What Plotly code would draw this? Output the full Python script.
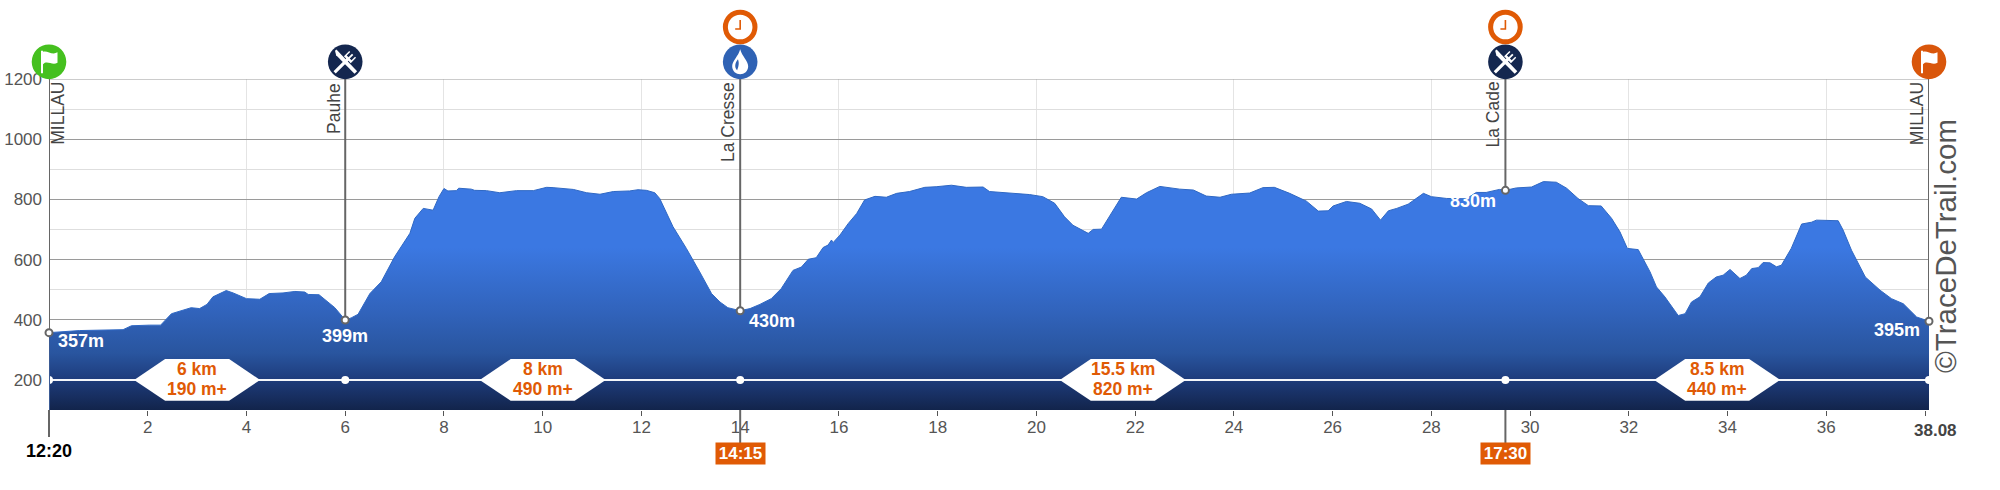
import math
import plotly.graph_objects as go

# ---- data ----
km = [0,0.62,1.5,1.67,2.04,2.26,2.48,2.68,2.88,3.05,3.2,3.32,3.59,3.73,4.0,4.27,4.46,4.74,4.98,5.18,5.25,5.47,5.65,5.79,6.0,
      6.12,6.26,6.5,6.73,7.0,7.31,7.41,7.58,7.78,7.9,8.0,8.08,8.25,8.3,8.55,8.62,8.86,9.13,9.47,9.81,10.08,10.21,10.62,10.89,
      11.16,11.43,11.76,11.93,12.1,12.27,12.37,12.64,12.91,13.18,13.42,13.59,13.75,14.0,14.2,14.4,14.63,14.83,15.07,15.24,
      15.38,15.54,15.68,15.78,15.85,15.88,16.02,16.19,16.36,16.52,16.73,16.96,17.17,17.43,17.74,17.97,18.28,18.58,18.92,19.05,
      19.26,19.46,19.86,20.13,20.37,20.57,20.74,21.05,21.15,21.32,21.49,21.72,22.03,22.23,22.5,22.9,23.18,23.44,23.72,23.95,
      24.32,24.59,24.82,25.13,25.47,25.71,25.91,26.01,26.28,26.55,26.79,26.97,27.13,27.3,27.53,27.84,28.0,28.31,28.71,28.91,
      29.11,29.38,29.5,29.72,30.03,30.27,30.53,30.74,30.97,31.18,31.44,31.65,31.82,31.97,32.19,32.43,32.56,32.73,33.0,33.14,
      33.27,33.44,33.61,33.77,33.91,34.05,34.25,34.38,34.49,34.62,34.72,34.86,34.99,35.09,35.29,35.5,35.7,35.8,36.24,36.34,
      36.51,36.79,37.09,37.32,37.56,37.83,38.08]
elevation = [357,364,367,380,382,382,420,431,440,437,451,476,497,489,470,468,487,489,494,492,484,483,459,440,399,
             406,418,487,526,609,687,737,770,764,809,836,828,829,837,834,830,829,822,829,829,840,839,833,822,
             817,826,828,832,830,822,803,709,637,559,487,459,440,430,437,451,470,503,564,575,
             601,606,640,648,665,656,681,720,753,798,810,807,820,826,840,842,847,840,841,826,
             823,820,816,809,787,742,714,687,700,701,748,807,801,822,843,834,831,811,807,817,
             821,839,840,820,794,761,762,778,793,787,768,731,762,770,784,820,809,803,802,823,
             823,833,830,838,841,859,857,837,803,779,778,737,692,637,633,559,509,476,414,420,
             459,476,522,542,548,567,537,548,570,573,590,589,576,581,637,718,724,731,729,698,
             631,542,498,470,453,409,395]

station_km = [0, 6, 14, 29.5, 38.08]
station_elev = [357, 399, 430, 830, 395]
station_names = ["MILLAU", "Pauhe", "La Cresse", "La Cade", "MILLAU"]
elev_labels = ["357m", "399m", "430m", "830m", "395m"]

segment_km_labels = ["6 km", "8 km", "15.5 km", "8.5 km"]
segment_gain_labels = ["190 m+", "490 m+", "820 m+", "440 m+"]

time_labels = ["12:20", "14:15", "17:30"]
time_km = [0, 14, 29.5]

x_ticks = [2,4,6,8,10,12,14,16,18,20,22,24,26,28,30,32,34,36,38]
x_tick_labels = ["2","4","6","8","10","12","14","16","18","20","22","24","26","28","30","32","34","36",""]
x_grid = [4,8,12,16,20,24,28,32,36]
y_ticks = [200,400,600,800,1000,1200]
total_km = 38.08

# ---- frame ----
W, H = 2000, 490
L, R, T, B = 49.3, 1929.3, 79.3, 409.7
Y0, Y1 = 100, 1200
SANS = "Liberation Sans, Arial, sans-serif"
ORANGE = "#e05a05"
NAVY = "#14274f"
POLE = "#666666"
TXT = "#555555"

def fx(k):
    return k / total_km
def fy(e):
    return (e - Y0) / (Y1 - Y0)

fig = go.Figure()

# top gridline (the axis grid drops the line that sits on the range edge)
fig.add_trace(go.Scatter(x=[0, total_km], y=[1200, 1200], mode="lines", cliponaxis=False,
                         line=dict(color="#9a9a9a", width=1), hoverinfo="skip", showlegend=False))

# area
fig.add_trace(go.Scatter(
    x=km, y=elevation, mode="lines", fill="tozeroy",
    line=dict(color="#2f68c4", width=1),
    fillgradient=dict(type="vertical", start=100, stop=640,
                      colorscale=[[0, "#12244b"], [0.19, "#1e3c7c"], [0.35, "#29559f"],
                                  [0.6, "#3163bb"], [1, "#3b78e2"]]),
    hoverinfo="skip", showlegend=False))

# white route line and dots
fig.add_trace(go.Scatter(x=[0, total_km], y=[200, 200], mode="lines",
                         line=dict(color="#f4f6fa", width=2), hoverinfo="skip", showlegend=False))
fig.add_trace(go.Scatter(x=station_km, y=[200]*len(station_km), mode="markers",
                         marker=dict(color="#ffffff", size=8), cliponaxis=False,
                         hoverinfo="skip", showlegend=False))

# poles
for k, e in zip(station_km, station_elev):
    fig.add_trace(go.Scatter(x=[k, k], y=[1200, e], mode="lines", cliponaxis=False,
                             line=dict(color=POLE, width=2), hoverinfo="skip", showlegend=False))
fig.add_trace(go.Scatter(x=[0, 0], y=[357, 100], mode="lines", cliponaxis=False,
                         line=dict(color="#3a5a94", width=2), hoverinfo="skip", showlegend=False))
fig.add_trace(go.Scatter(x=station_km, y=station_elev, mode="markers", cliponaxis=False,
                         marker=dict(color="#ffffff", size=7, line=dict(color=POLE, width=2)),
                         hoverinfo="skip", showlegend=False))

shapes = []
def pix_shape(k, e, **kw):
    d = dict(xref="paper", yref="paper", xsizemode="pixel", ysizemode="pixel",
             xanchor=fx(k), yanchor=fy(e), layer="above")
    d.update(kw)
    shapes.append(d)

def circle(k, e, r, fill, line=None, lw=0):
    pix_shape(k, e, type="circle", x0=-r, x1=r, y0=-r, y1=r, fillcolor=fill,
              line=dict(color=line or fill, width=lw))

def path(k, e, p, fill="#ffffff", line=None, lw=0):
    pix_shape(k, e, type="path", path=p, fillcolor=fill, line=dict(color=line or fill, width=lw))

# pole stubs below the axis, down to the time labels
for k, drop in zip(time_km, [27, 34, 34]):
    pix_shape(k, Y0, type="line", x0=0, x1=0, y0=0, y1=-drop, line=dict(color=POLE, width=2))

# hexagons
for i in range(4):
    c = (station_km[i] + station_km[i+1]) / 2
    path(c, 200, "M -63 0 L -32 20.8 L 32 20.8 L 63 0 L 32 -20.8 L -32 -20.8 Z")

ICON_E = 1257
CLOCK_E = 1373
FLAG = "M -8 11 L -6 11 L -6 10 C -2 12 3 6 8.5 9.5 L 8.5 -1 C 3 -4 -2 2 -6 -2.5 L -6 -11.5 L -8 -11.5 Z"

def rot(pts):
    c = s = math.sqrt(0.5)
    return [(c*u - s*v, s*u + c*v) for u, v in pts]
def poly(pts):
    return "M " + " L ".join(f"{a:.1f} {b:.1f}" for a, b in pts) + " Z"
# u runs along the utensil, v across it
fork = poly(rot([(-15,-1.6),(3,-1.6),(3,-4.8),(10.5,-4.8),(10.5,-3.4),(5.5,-3.4),(5.5,-0.9),(10.5,-0.9),(10.5,0.9),
                 (5.5,0.9),(5.5,3.4),(10.5,3.4),(10.5,4.8),(3,4.8),(3,1.6),(-15,1.6)]))
knife = poly([(-a, b) for a, b in rot([(-15,-1.8),(11,-1.8),(15,0.6),(15,2.6),(-15,1.8)])])

def food_icon(k):
    circle(k, ICON_E, 17.3, NAVY)
    path(k, ICON_E, knife)
    path(k, ICON_E, fork)

circle(0, ICON_E, 17.3, "#45c01f"); path(0, ICON_E, FLAG)
food_icon(6)
circle(14, ICON_E, 17.3, "#2f62b4")
path(14, ICON_E, "M 0 12.5 C 1.5 6 8 1 8 -4.5 C 8 -9.5 4 -12.5 0 -12.5 C -4 -12.5 -8 -9.5 -8 -4.5 C -8 1 -1.5 6 0 12.5 Z")
path(14, ICON_E, "M -2.2 2.5 C -5.5 -1.5 -5.8 -6 -3 -8.5 C -2 -5.5 -0.5 -2 -2.2 2.5 Z", fill="#2f62b4")
food_icon(29.5)
circle(total_km, ICON_E, 17.3, "#d9560b"); path(total_km, ICON_E, FLAG)
for k in (14, 29.5):
    circle(k, CLOCK_E, 14.8, "#ffffff", line=ORANGE, lw=5)
    path(k, CLOCK_E, "M -0.8 7 L 0.8 7 L 0.8 -2.8 L -5 -2.8 L -5 -1.2 L -0.8 -1.2 Z", fill=ORANGE)

# ---- texts ----
anns = []
def txt(px, py, s, size=17, color=TXT, bold=False, angle=0, **kw):
    d = dict(xref="paper", yref="paper", x=(px - L)/(R - L), y=(B - py)/(B - T),
             text=f"<b>{s}</b>" if bold else s, showarrow=False, xanchor="center", yanchor="middle",
             textangle=angle, borderpad=0, font=dict(family=SANS, size=size, color=color))
    d.update(kw)
    anns.append(d)

for i, (a, b) in enumerate(zip(segment_km_labels, segment_gain_labels)):
    c = (station_km[i] + station_km[i+1]) / 2
    px = L + fx(c)*(R - L)
    txt(px, 368.8, a, size=17.5, color=ORANGE, bold=True)
    txt(px, 388.8, b, size=17.5, color=ORANGE, bold=True)

for px, py, s in zip([81, 345.7, 772.7, 1473, 1897.7], [341, 335.7, 321, 201, 330], elev_labels):
    txt(px, py, s, size=18, color="#ffffff", bold=True)

# rotated station names: centred on their measured bounding box
for px, py, s in zip([58.3, 334.5, 729, 1493, 1916.7], [114, 109, 122.5, 115, 114], station_names):
    txt(px, py, s, size=17.5, color="#444444", angle=-90)

txt(49.3, 451, time_labels[0], size=18, color="#000000", bold=True)
for k, s in zip(time_km[1:], time_labels[1:]):
    px = L + fx(k)*(R - L)
    txt(px, 453, s, size=17, color="#ffffff", bold=True, bgcolor=ORANGE, width=49, height=21, align="center")
txt(1935.7, 430, "38.08", size=17, color="#444444", bold=True)
txt(1945.7, 245.5, "©TraceDeTrail.com", size=29.5, color="#555555", angle=-90)

fig.update_layout(
    width=W, height=H, autosize=False,
    margin=dict(l=L, r=W - R, t=T, b=H - B, pad=0, autoexpand=False),
    paper_bgcolor="#ffffff", plot_bgcolor="#ffffff",
    shapes=shapes, annotations=anns, showlegend=False,
    xaxis=dict(range=[0, total_km], tickmode="array", tickvals=x_ticks, ticktext=x_tick_labels,
               showgrid=False, zeroline=False, showline=False, ticks="outside", ticklen=5, tickwidth=1,
               tickcolor="#555555", tickfont=dict(family=SANS, size=17, color=TXT), automargin=False,
               ticklabelstandoff=-3,
               minor=dict(tickmode="array", tickvals=x_grid, showgrid=True, gridcolor="#e4e4e4",
                          gridwidth=1, ticks="")),
    yaxis=dict(range=[Y0, Y1], tickmode="array", tickvals=y_ticks, showgrid=True, gridcolor="#9a9a9a",
               gridwidth=1, zeroline=False, showline=False, ticks="", ticklabelstandoff=6, automargin=False,
               tickfont=dict(family=SANS, size=17, color=TXT),
               minor=dict(tickmode="array", tickvals=[100,300,500,700,900,1100], showgrid=True,
                          gridcolor="#dedede", gridwidth=1, ticks="")),
)

fig.write_html("out.html", config={"displayModeBar": False},
               post_script="document.body.style.margin='0';document.documentElement.style.overflow='hidden';")
